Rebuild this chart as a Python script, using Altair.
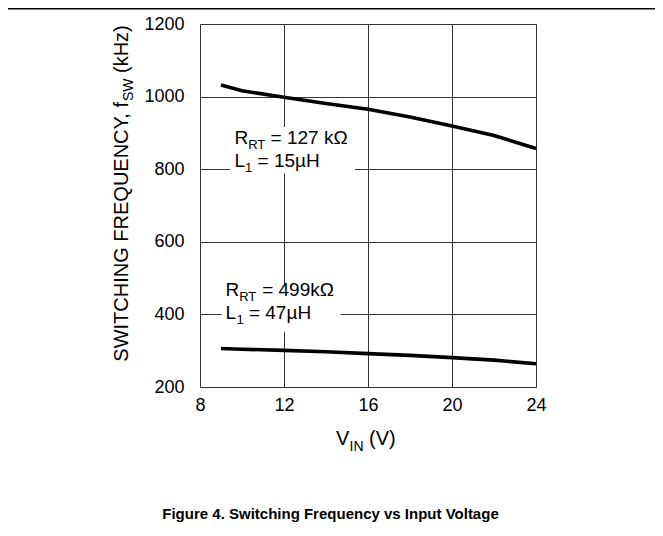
import altair as alt
import pandas as pd

# ---- data ----
vin_127 = [9, 10, 12, 14, 16, 18, 20, 22, 24]
fsw_127 = [1032, 1016, 998, 981, 965, 944, 919, 893, 857]
vin_499 = [9, 10, 12, 14, 16, 18, 20, 22, 24]
fsw_499 = [306, 304, 301, 297, 292, 287, 281, 274, 264]

x_ticks = [8, 12, 16, 20, 24]
y_ticks = [200, 400, 600, 800, 1000, 1200]

# annotation pieces (text, V position, kHz baseline)
ann_main_text = ["R", "= 127 k\u03a9", "L", "= 15\u00b5H", "R", "= 499k\u03a9", "L", "= 47\u00b5H"]
ann_main_x = [9.643, 11.36, 9.643, 10.74, 9.214, 10.96, 9.214, 10.33]
ann_main_y = [870, 870, 807, 807, 450, 450, 387, 387]
ann_sub_text = ["RT", "1", "RT", "1"]
ann_sub_x = [10.295, 10.14, 9.867, 9.74]
ann_sub_y = [870, 807, 450, 387]

# white boxes behind the annotations (V range, kHz range)
box_x = [9.43, 9.03]
box_x2 = [15.38, 14.70]
box_y = [788, 351]
box_y2 = [916, 480]

FONT = "Liberation Sans"
W, H = 336, 363

curves = pd.DataFrame({
    "vin": vin_127 + vin_499,
    "fsw": fsw_127 + fsw_499,
    "series": ["127k"] * len(vin_127) + ["499k"] * len(vin_499),
})
ann_main = pd.DataFrame({"t": ann_main_text, "x": ann_main_x, "y": ann_main_y})
ann_sub = pd.DataFrame({"t": ann_sub_text, "x": ann_sub_x, "y": ann_sub_y})
boxes = pd.DataFrame({"x": box_x, "x2": box_x2, "y": box_y, "y2": box_y2})

xs = alt.Scale(domain=[8, 24], nice=False, zero=False)
ys = alt.Scale(domain=[200, 1200], nice=False, zero=False)

x_axis = alt.Axis(values=x_ticks, title=None, grid=True, gridColor="#333333", gridWidth=1,
                  domain=False, ticks=False, tickSize=0, labelFontSize=18, labelPadding=9,
                  labelColor="black", labelFont=FONT, labelFlush=False, format="d")
y_axis = alt.Axis(values=y_ticks, title=None, grid=True, gridColor="#333333", gridWidth=1,
                  domain=False, ticks=False, tickSize=0, labelFontSize=18, labelPadding=16,
                  labelColor="black", labelFont=FONT, format="d")

rects = alt.Chart(boxes).mark_rect(fill="white").encode(
    x=alt.X("x:Q", scale=xs, axis=x_axis),
    x2="x2:Q",
    y=alt.Y("y:Q", scale=ys, axis=y_axis),
    y2="y2:Q",
)

lines = alt.Chart(curves).mark_line(color="black", strokeWidth=3.6).encode(
    x=alt.X("vin:Q", scale=xs),
    y=alt.Y("fsw:Q", scale=ys),
    detail="series:N",
)

t_main = alt.Chart(ann_main).mark_text(align="left", baseline="alphabetic", fontSize=19,
                                       font=FONT, color="black").encode(
    x=alt.X("x:Q", scale=xs), y=alt.Y("y:Q", scale=ys), text="t:N")
t_sub = alt.Chart(ann_sub).mark_text(align="left", baseline="alphabetic", fontSize=13,
                                     font=FONT, color="black", dy=5).encode(
    x=alt.X("x:Q", scale=xs), y=alt.Y("y:Q", scale=ys), text="t:N")

# axis titles and caption (text with subscripts)
ytitle_main = alt.Chart(pd.DataFrame({"t": ["SWITCHING FREQUENCY, f"]})).mark_text(
    angle=270, align="right", baseline="alphabetic", fontSize=20, font=FONT, color="black"
).encode(x=alt.value(-72), y=alt.value(78), text="t:N")
ytitle_sub = alt.Chart(pd.DataFrame({"t": ["SW"]})).mark_text(
    angle=270, align="left", baseline="alphabetic", fontSize=14, font=FONT, color="black"
).encode(x=alt.value(-67), y=alt.value(77), text="t:N")
ytitle_unit = alt.Chart(pd.DataFrame({"t": ["(kHz)"]})).mark_text(
    angle=270, align="left", baseline="alphabetic", fontSize=20, font=FONT, color="black"
).encode(x=alt.value(-72), y=alt.value(49), text="t:N")

xtitle_main = alt.Chart(pd.DataFrame({"t": ["V"]})).mark_text(
    align="left", baseline="alphabetic", fontSize=20, font=FONT, color="black"
).encode(x=alt.value(136), y=alt.value(421), text="t:N")
xtitle_sub = alt.Chart(pd.DataFrame({"t": ["IN"]})).mark_text(
    align="left", baseline="alphabetic", fontSize=14, font=FONT, color="black"
).encode(x=alt.value(149.5), y=alt.value(427), text="t:N")
xtitle_unit = alt.Chart(pd.DataFrame({"t": ["(V)"]})).mark_text(
    align="left", baseline="alphabetic", fontSize=20, font=FONT, color="black"
).encode(x=alt.value(169), y=alt.value(421), text="t:N")

caption = alt.Chart(pd.DataFrame({"t": ["Figure 4. Switching Frequency vs Input Voltage"]})).mark_text(
    align="center", baseline="alphabetic", fontSize=15, fontWeight="bold", font=FONT, color="black"
).encode(x=alt.value(130.5), y=alt.value(495), text="t:N")

top_rule = alt.Chart(pd.DataFrame({"a": [0]})).mark_rule(color="black", strokeWidth=1.5).encode(
    x=alt.value(-192), x2=alt.value(455), y=alt.value(-15.2))

chart = alt.layer(
    rects, lines, t_main, t_sub, ytitle_main, ytitle_sub, ytitle_unit,
    xtitle_main, xtitle_sub, xtitle_unit, caption, top_rule
).properties(
    width=W, height=H,
    autosize=alt.AutoSizeParams(type="none"),
    padding={"left": 192, "top": 16, "right": 119, "bottom": 135},
).configure_view(
    stroke="black", strokeWidth=1.5
).configure(background="white")

chart.save("out.html", embed_options={"renderer": "svg", "actions": False})
